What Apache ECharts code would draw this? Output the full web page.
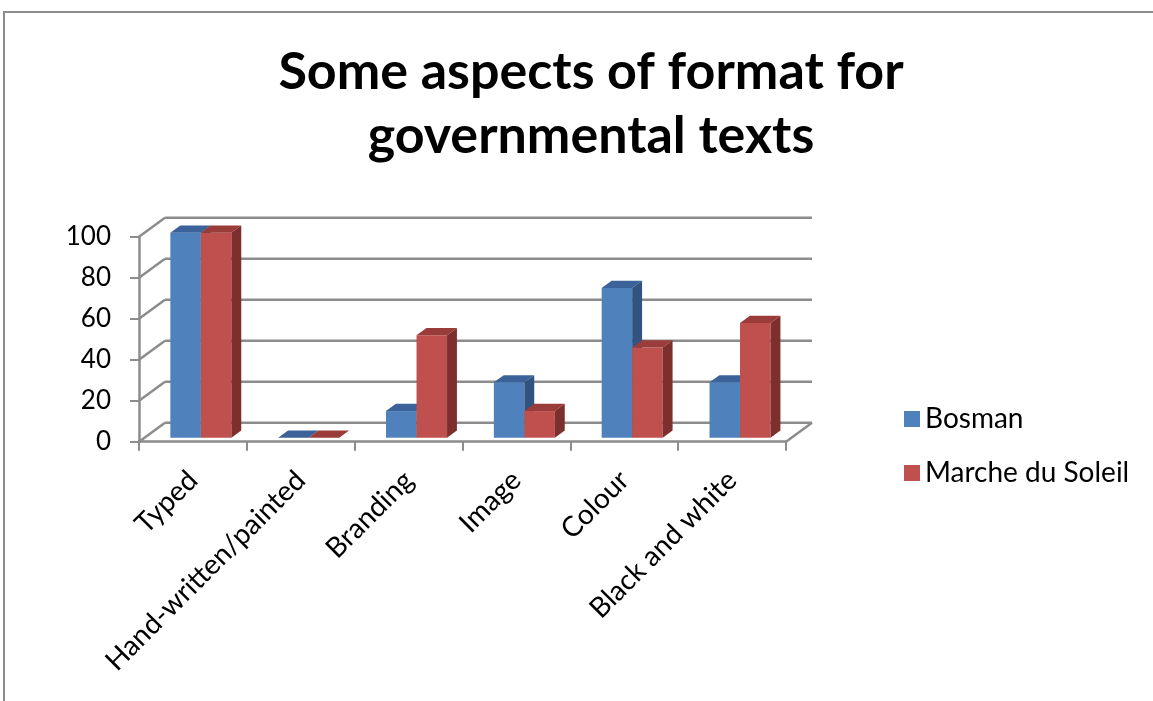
<!DOCTYPE html>
<html>
<head>
<meta charset="utf-8">
<title>Some aspects of format for governmental texts</title>
<script src="https://cdn.jsdelivr.net/npm/echarts@6/dist/echarts.min.js"></script>
<style>
  html, body { margin: 0; padding: 0; background: #fff; overflow: hidden; }
  #frame { position: absolute; left: 3px; top: 11px; width: 1300px; height: 900px; border: 2px solid #8c8c8c; box-sizing: border-box; }
  #main { position: absolute; left: 0; top: 0; width: 1153px; height: 701px; }
</style>
</head>
<body>
<div id="frame"></div>
<div id="main"></div>
<script>
// data
var categories = ['Typed', 'Hand-written/painted', 'Branding', 'Image', 'Colour', 'Black and white'];
var bosman = [100, 0, 13, 27, 73, 27];
var marche = [100, 0, 50, 13, 44, 56];
var yTicks = [0, 20, 40, 60, 80, 100];

// fake 3d: depth offset of the back wall and where the bars sit in it
var DX = 26, DY = 19;
var FRONT = 0.21, BAR_DEPTH = 0.38;
var BAR_W = 0.283, GROUP_OFF = 0.24;

var chart = echarts.init(document.getElementById('main'));

function barRenderer(k, front, top, side) {
  return function (params, api) {
    var i = api.value(0), v = api.value(1);
    var base = api.coord([i, 0]);
    var tip = api.coord([i, v]);
    var band = api.size([1, 0])[0];
    var bw = band * BAR_W;
    var x = base[0] - band / 2 + band * GROUP_OFF + k * bw + DX * FRONT;
    var y0 = base[1] - DY * FRONT;
    var y1 = tip[1] - DY * FRONT;
    var dx = DX * BAR_DEPTH, dy = DY * BAR_DEPTH;
    return {
      type: 'group',
      children: [
        { type: 'rect', shape: { x: x, y: y1, width: bw, height: y0 - y1 }, style: { fill: front } },
        { type: 'polygon', shape: { points: [[x, y1], [x + bw, y1], [x + bw + dx, y1 - dy], [x + dx, y1 - dy]] }, style: { fill: top } },
        { type: 'polygon', shape: { points: [[x + bw, y1], [x + bw + dx, y1 - dy], [x + bw + dx, y0 - dy], [x + bw, y0]] }, style: { fill: side } }
      ]
    };
  };
}

function wallRenderer(params, api) {
  var v = api.value(1);
  var band = api.size([1, 0])[0];
  var p = api.coord([0, v]);
  var left = p[0] - band / 2;
  var right = api.coord([categories.length - 1, v])[0] + band / 2;
  var y = p[1];
  var st = { stroke: '#8c8c8c', lineWidth: 2.5, fill: null };
  var kids = [
    { type: 'line', shape: { x1: left, y1: y, x2: left + DX, y2: y - DY }, style: st },
    { type: 'line', shape: { x1: left + DX, y1: y - DY, x2: right + DX, y2: y - DY }, style: st }
  ];
  if (v === 0) {
    kids.push({ type: 'line', shape: { x1: right, y1: y, x2: right + DX, y2: y - DY }, style: st });
  }
  return { type: 'group', children: kids };
}

chart.setOption({
  animation: false,
  textStyle: { fontFamily: 'Lato' },
  title: {
    text: 'Some aspects of format for\ngovernmental texts',
    left: 586,
    textAlign: 'center',
    top: 35,
    textStyle: { fontFamily: 'Lato', fontSize: 52, fontWeight: 'bold', color: '#000', lineHeight: 64 }
  },
  legend: {
    orient: 'vertical',
    left: 899,
    top: 400,
    itemWidth: 16,
    itemHeight: 16,
    itemGap: 26,
    icon: 'rect',
    textStyle: { fontFamily: 'Lato', fontSize: 28, color: '#000' },
    data: ['Bosman', 'Marche du Soleil']
  },
  grid: { left: 139, right: 367, top: 236.7, bottom: 259.3, containLabel: false },
  xAxis: {
    type: 'category',
    data: categories,
    boundaryGap: true,
    axisLine: { lineStyle: { color: '#8c8c8c', width: 2.5 } },
    axisTick: { show: true, length: 9, alignWithLabel: false, lineStyle: { color: '#8c8c8c', width: 2 } },
    axisLabel: { rotate: 45, margin: 34, fontSize: 28, color: '#000', interval: 0 }
  },
  yAxis: {
    type: 'value',
    min: 0,
    max: 100,
    interval: 20,
    axisLine: { show: true, lineStyle: { color: '#8c8c8c', width: 2.5 } },
    axisTick: { show: true, length: 9, lineStyle: { color: '#8c8c8c', width: 2 } },
    axisLabel: { margin: 28, fontSize: 26, color: '#000' },
    splitLine: { show: false }
  },
  series: [
    {
      type: 'custom',
      name: 'walls',
      renderItem: wallRenderer,
      data: yTicks.map(function (v) { return [0, v]; }),
      encode: { x: 0, y: 1 },
      silent: true,
      z: 1
    },
    {
      type: 'custom',
      name: 'Bosman',
      itemStyle: { color: '#4f81bd' },
      renderItem: barRenderer(0, '#4f81bd', '#3b6399', '#31537f'),
      data: bosman.map(function (v, i) { return [i, v]; }),
      encode: { x: 0, y: 1 },
      z: 2
    },
    {
      type: 'custom',
      name: 'Marche du Soleil',
      itemStyle: { color: '#c0504d' },
      renderItem: barRenderer(1, '#c0504d', '#9a3c3a', '#7d2f2d'),
      data: marche.map(function (v, i) { return [i, v]; }),
      encode: { x: 0, y: 1 },
      z: 3
    }
  ]
});
</script>
</body>
</html>
